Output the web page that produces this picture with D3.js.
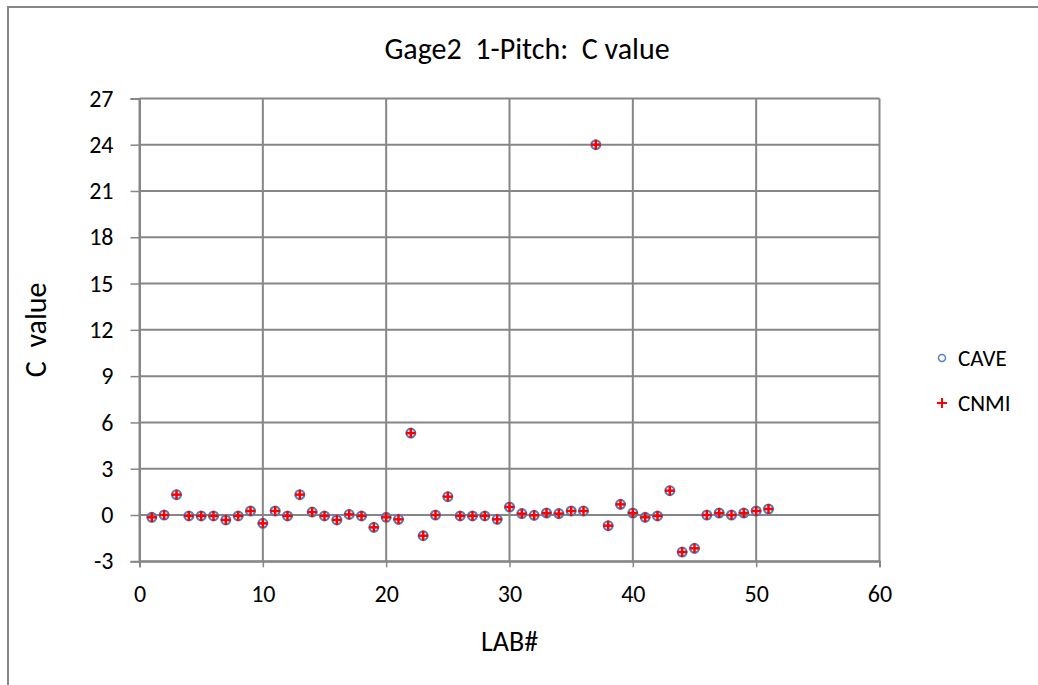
<!DOCTYPE html>
<html>
<head>
<meta charset="utf-8">
<script src="https://cdn.jsdelivr.net/npm/d3@7"></script>
<style>
  html, body { margin: 0; padding: 0; background: #fff; }
  svg { display: block; }
  text { font-family: Carlito, Calibri, Lato, "DejaVu Sans", sans-serif; fill: #000; white-space: pre; }
</style>
</head>
<body>
<svg id="chart" width="1038" height="685"></svg>
<script>
// Lab numbers 1..51 and their C values (two estimators)
const labs = [1,2,3,4,5,6,7,8,9,10,11,12,13,14,15,16,17,18,19,20,21,22,23,24,25,26,27,28,29,30,31,32,33,34,35,36,37,38,39,40,41,42,43,44,45,46,47,48,49,50,51];
const cave = [-0.15,0.0,1.32,-0.06,-0.06,-0.06,-0.32,-0.06,0.26,-0.54,0.26,-0.06,1.32,0.19,-0.06,-0.32,0.04,-0.06,-0.8,-0.15,-0.28,5.31,-1.34,0.0,1.19,-0.06,-0.06,-0.06,-0.28,0.52,0.09,-0.02,0.13,0.09,0.26,0.26,24.0,-0.69,0.69,0.13,-0.15,-0.06,1.58,-2.4,-2.16,0.0,0.13,0.0,0.13,0.26,0.39];
const cnmi = [-0.15,0.0,1.32,-0.06,-0.06,-0.06,-0.32,-0.06,0.26,-0.54,0.26,-0.06,1.32,0.19,-0.06,-0.32,0.04,-0.06,-0.8,-0.15,-0.28,5.31,-1.34,0.0,1.19,-0.06,-0.06,-0.06,-0.28,0.52,0.09,-0.02,0.13,0.09,0.26,0.26,24.0,-0.69,0.69,0.13,-0.15,-0.06,1.58,-2.4,-2.16,0.0,0.13,0.0,0.13,0.26,0.39];
const xTicks = [0,10,20,30,40,50,60];
const yTicks = [-3,0,3,6,9,12,15,18,21,24,27];
const seriesNames = ["CAVE", "CNMI"];

const svg = d3.select("#chart");
const gridColor = "#868686";

// outer chart frame
svg.append("rect")
  .attr("x", 8).attr("y", 7).attr("width", 1100).attr("height", 760)
  .attr("fill", "none").attr("stroke", gridColor).attr("stroke-width", 2);

const plot = { left: 139.5, right: 879.5, top: 98.4, bottom: 561.3 };
const x = d3.scaleLinear().domain([0, 60]).range([plot.left, plot.right]);
const y = d3.scaleLinear().domain([-3, 27]).range([plot.bottom, plot.top]);
const fmt = d => String(d);  // plain hyphen for negatives

// gridlines
svg.append("g").selectAll("line").data(yTicks).join("line")
  .attr("x1", plot.left).attr("x2", plot.right)
  .attr("y1", d => y(d)).attr("y2", d => y(d))
  .attr("stroke", gridColor).attr("stroke-width", 2);
svg.append("g").selectAll("line").data(xTicks).join("line")
  .attr("x1", d => x(d)).attr("x2", d => x(d))
  .attr("y1", plot.top).attr("y2", plot.bottom)
  .attr("stroke", gridColor).attr("stroke-width", 2);

// axes
const xAxis = svg.append("g").attr("transform", `translate(0,${plot.bottom})`)
  .call(d3.axisBottom(x).tickValues(xTicks).tickFormat(fmt).tickSize(6).tickPadding(18));
const yAxis = svg.append("g").attr("transform", `translate(${plot.left},0)`)
  .call(d3.axisLeft(y).tickValues(yTicks).tickFormat(fmt).tickSize(9).tickPadding(17));
[xAxis, yAxis].forEach(a => {
  a.attr("font-family", null).attr("font-size", null);
  a.select(".domain").attr("stroke", gridColor).attr("stroke-width", 2);
  a.selectAll(".tick line").attr("stroke", gridColor).attr("stroke-width", 1.5);
  a.selectAll(".tick text").attr("font-size", 24).attr("fill", "#000");
});

// markers: CAVE circles, CNMI crosses
const pts = labs.map((l, i) => ({ l, a: cave[i], b: cnmi[i] }));
svg.append("g").selectAll("circle").data(pts).join("circle")
  .attr("cx", d => x(d.l)).attr("cy", d => y(d.a)).attr("r", 4.4)
  .attr("fill", "none").attr("stroke", "#4F81BD").attr("stroke-width", 2.2);
const cross = svg.append("g").selectAll("g").data(pts).join("g")
  .attr("transform", d => `translate(${x(d.l)},${y(d.b)})`);
cross.append("line").attr("x1", -5).attr("x2", 5).attr("stroke", "#FF0000").attr("stroke-width", 2.5);
cross.append("line").attr("y1", -5).attr("y2", 5).attr("stroke", "#FF0000").attr("stroke-width", 2.5);

// title and axis titles
svg.append("text").attr("x", 527).attr("y", 59).attr("text-anchor", "middle")
  .attr("font-size", 30).text("Gage2  1-Pitch:  C value");
svg.append("text").attr("transform", `translate(46,${(plot.top + plot.bottom) / 2}) rotate(-90)`)
  .attr("text-anchor", "middle").attr("font-size", 30).text("C  value");
svg.append("text").attr("x", (plot.left + plot.right) / 2).attr("y", 651).attr("text-anchor", "middle")
  .attr("font-size", 28).text("LAB#");

// legend
const leg = svg.append("g").attr("transform", "translate(942,358)");
leg.append("circle").attr("cx", 0).attr("cy", 0).attr("r", 3.5)
  .attr("fill", "none").attr("stroke", "#4F81BD").attr("stroke-width", 1.5);
leg.append("text").attr("x", 16).attr("y", 0).attr("dy", "0.35em").attr("font-size", 23).text(seriesNames[0]);
const lp = leg.append("g").attr("transform", "translate(0,45)");
lp.append("line").attr("x1", -5).attr("x2", 5).attr("stroke", "#FF0000").attr("stroke-width", 2);
lp.append("line").attr("y1", -5).attr("y2", 5).attr("stroke", "#FF0000").attr("stroke-width", 2);
lp.append("text").attr("x", 16).attr("y", 0).attr("dy", "0.35em").attr("font-size", 23).text(seriesNames[1]);
</script>
</body>
</html>
